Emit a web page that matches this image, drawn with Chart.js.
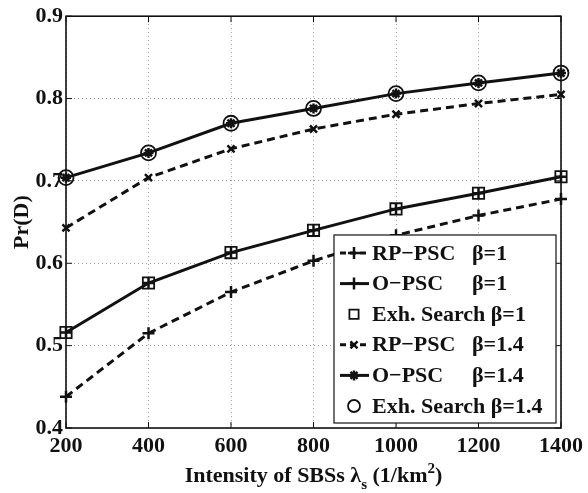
<!DOCTYPE html>
<html>
<head>
<meta charset="utf-8">
<title>Pr(D) vs intensity of SBSs</title>
<script src="https://cdn.jsdelivr.net/npm/chart.js@4.4.1/dist/chart.umd.min.js"></script>
<style>
  html, body { margin: 0; padding: 0; background: #fff; }
  #wrap { width: 588px; height: 493px; position: relative; }
</style>
</head>
<body>
<div id="wrap"><canvas id="pdChart"></canvas></div>
<script>
// Data
const intensity = [200, 400, 600, 800, 1000, 1200, 1400];
const rpPsc1 = [0.438, 0.515, 0.565, 0.603, 0.634, 0.658, 0.678];
const oPsc1 = [0.516, 0.576, 0.613, 0.640, 0.666, 0.685, 0.705];
const exhSearch1 = [0.516, 0.576, 0.613, 0.640, 0.666, 0.685, 0.705];
const rpPsc14 = [0.643, 0.704, 0.739, 0.763, 0.781, 0.794, 0.805];
const oPsc14 = [0.704, 0.734, 0.770, 0.788, 0.806, 0.819, 0.831];
const exhSearch14 = [0.704, 0.734, 0.770, 0.788, 0.806, 0.819, 0.831];
const yTicks = [0.4, 0.5, 0.6, 0.7, 0.8, 0.9];

const INK = "#111";
const FONT = "'Liberation Serif', 'Times New Roman', serif";

function lineSet(label, data, dashed, marker, size) {
  return {
    label: label,
    data: data,
    borderColor: INK,
    backgroundColor: INK,
    borderWidth: 3,
    borderDash: dashed ? [8, 5] : [],
    pointStyle: marker,
    pointRadius: size,
    pointBorderWidth: 2.5,
    pointBorderColor: INK,
    pointBackgroundColor: INK,
    tension: 0,
  };
}

function markerSet(label, data, marker, size) {
  return {
    label: label,
    data: data,
    showLine: false,
    borderColor: INK,
    backgroundColor: "rgba(0,0,0,0)",
    pointStyle: marker,
    pointRadius: size,
    pointBorderWidth: 1.8,
    pointBorderColor: INK,
    pointBackgroundColor: "rgba(0,0,0,0)",
  };
}

// Frame around the plot + MATLAB-like inward ticks
const framePlugin = {
  id: "frame",
  beforeDatasetsDraw(chart) {
    const { ctx, chartArea: a, scales } = chart;
    ctx.save();
    ctx.strokeStyle = INK;
    ctx.lineWidth = 1;
    scales.x.ticks.forEach((t, i) => {
      const px = scales.x.getPixelForTick(i);
      ctx.beginPath();
      ctx.moveTo(px, a.bottom); ctx.lineTo(px, a.bottom - 6);
      ctx.moveTo(px, a.top); ctx.lineTo(px, a.top + 6);
      ctx.stroke();
    });
    scales.y.ticks.forEach((t) => {
      const py = scales.y.getPixelForValue(t.value);
      ctx.beginPath();
      ctx.moveTo(a.left, py); ctx.lineTo(a.left + 6, py);
      ctx.moveTo(a.right, py); ctx.lineTo(a.right - 6, py);
      ctx.stroke();
    });
    ctx.lineWidth = 1.6;
    ctx.strokeRect(a.left, a.top, a.right - a.left, a.bottom - a.top);
    ctx.restore();
  },
};

// x-axis title with subscript / superscript
const xTitlePlugin = {
  id: "xTitle",
  afterDraw(chart) {
    const { ctx, chartArea: a } = chart;
    const parts = [
      { t: "Intensity of SBSs λ", size: 22, dy: 0 },
      { t: "s", size: 15, dy: 7 },
      { t: " (1/km", size: 22, dy: 0 },
      { t: "2", size: 15, dy: -9 },
      { t: ")", size: 22, dy: 0 },
    ];
    ctx.save();
    ctx.fillStyle = INK;
    ctx.textBaseline = "alphabetic";
    ctx.textAlign = "left";
    let total = 0;
    parts.forEach((p) => {
      ctx.font = "bold " + p.size + "px " + FONT;
      p.w = ctx.measureText(p.t).width;
      total += p.w;
    });
    let x = (a.left + a.right) / 2 - total / 2;
    const base = a.bottom + 54;
    parts.forEach((p) => {
      ctx.font = "bold " + p.size + "px " + FONT;
      ctx.fillText(p.t, x, base + p.dy);
      x += p.w;
    });
    ctx.restore();
  },
};

function drawMarker(ctx, style, r, x, y, lw) {
  if (window.Chart && Chart.helpers && Chart.helpers.drawPoint) {
    Chart.helpers.drawPoint(ctx, { pointStyle: style, radius: r, borderWidth: lw, rotation: 0 }, x, y);
  }
}

// Boxed legend inside the plot, lower right
const boxLegendPlugin = {
  id: "boxLegend",
  afterDraw(chart) {
    const { ctx, chartArea: a } = chart;
    const w = 222, h = 188;
    const right = a.right - 5, bottom = a.bottom - 5;
    const left = right - w, top = bottom - h;
    ctx.save();
    ctx.fillStyle = "#fff";
    ctx.fillRect(left, top, w, h);
    ctx.strokeStyle = INK;
    ctx.lineWidth = 1.2;
    ctx.strokeRect(left, top, w, h);

    const step = 30.6;
    chart.data.datasets.forEach((ds, i) => {
      const cy = top + 18 + i * step;
      const mx = left + 20;
      ctx.strokeStyle = INK;
      ctx.fillStyle = INK;
      if (ds.showLine !== false) {
        ctx.save();
        ctx.lineWidth = ds.borderWidth;
        ctx.setLineDash(ds.borderDash.length ? [6, 4] : []);
        ctx.beginPath();
        ctx.moveTo(left + 6, cy);
        ctx.lineTo(left + 35, cy);
        ctx.stroke();
        ctx.restore();
      }
      ctx.save();
      ctx.strokeStyle = INK;
      ctx.fillStyle = ds.pointBackgroundColor;
      ctx.lineWidth = ds.pointBorderWidth;
      const r = ds.showLine === false ? ds.pointRadius - 1.5 : ds.pointRadius;
      drawMarker(ctx, ds.pointStyle, r, mx, cy, ds.pointBorderWidth);
      ctx.restore();

      ctx.fillStyle = INK;
      ctx.font = "bold 22px " + FONT;
      ctx.textBaseline = "middle";
      ctx.textAlign = "left";
      const tx = left + 38;
      const m = ds.label.match(/^(\S+)\s+(β=.*)$/);
      if (m && ds.label.indexOf("Exh.") !== 0) {
        ctx.fillText(m[1], tx, cy + 1);
        ctx.fillText(m[2], tx + 100, cy + 1);
      } else {
        ctx.fillText(ds.label, tx, cy + 1);
      }
    });
    ctx.restore();
  },
};

document.addEventListener("DOMContentLoaded", function () {
  const tickFont = { family: FONT, size: 22, weight: "bold" };
  new Chart(document.getElementById("pdChart"), {
    type: "line",
    data: {
      labels: intensity,
      datasets: [
        lineSet("RP−PSC  β=1", rpPsc1, true, "cross", 6),
        lineSet("O−PSC  β=1", oPsc1, false, "cross", 6),
        markerSet("Exh. Search β=1", exhSearch1, "rect", 8),
        lineSet("RP−PSC  β=1.4", rpPsc14, true, "crossRot", 5),
        lineSet("O−PSC  β=1.4", oPsc14, false, "star", 5),
        markerSet("Exh. Search β=1.4", exhSearch14, "circle", 7.5),
      ],
    },
    options: {
      responsive: true,
      maintainAspectRatio: false,
      animation: false,
      devicePixelRatio: 1,
      layout: { padding: { top: 13, right: 24, left: 0, bottom: 0 } },
      plugins: {
        legend: { display: false },
        tooltip: { enabled: false },
      },
      scales: {
        x: {
          offset: false,
          grid: { color: "#9a9a9a", lineWidth: 1, drawTicks: false },
          border: { display: false, dash: [1, 3] },
          ticks: { color: INK, font: tickFont, padding: 5, maxRotation: 0, autoSkip: false },
          afterFit: (s) => { s.height = 65; },
        },
        y: {
          min: 0.4,
          max: 0.9,
          afterBuildTicks: (s) => { s.ticks = yTicks.map((v) => ({ value: v })); },
          grid: { color: "#9a9a9a", lineWidth: 1, drawTicks: false },
          border: { display: false, dash: [1, 3] },
          ticks: { color: INK, font: tickFont, padding: 3, callback: (v) => Number(v).toFixed(1) },
          title: {
            display: true,
            text: "Pr(D)",
            color: INK,
            font: tickFont,
            padding: { top: 9, bottom: 0 },
          },
          afterFit: (s) => { s.width = 66; },
        },
      },
    },
    plugins: [framePlugin, xTitlePlugin, boxLegendPlugin],
  });
});
</script>
</body>
</html>
